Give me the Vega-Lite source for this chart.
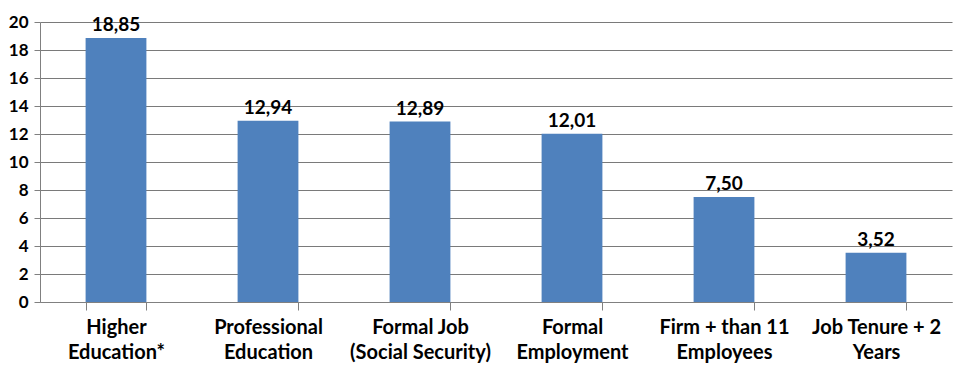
{
  "$schema": "https://vega.github.io/schema/vega-lite/v6.json",
  "autosize": "none",
  "width": 912,
  "height": 280,
  "padding": {"left": 40, "top": 22, "right": 2, "bottom": 74},
  "background": "white",
  "config": {
    "locale": {"number": {"decimal": ",", "thousands": ".", "grouping": [3], "currency": ["", ""]}},
    "view": {"stroke": null},
    "font": "Lato",
    "axis": {"ticks": true, "tickColor": "#808080", "domainColor": "#808080"},
    "axisY": {"grid": true, "gridColor": "#7a7a7a", "gridOpacity": 1, "gridWidth": 1.2}
  },
  "data": {
    "values": [
      {"category": "Higher|Education*", "value": 18.85},
      {"category": "Professional|Education", "value": 12.94},
      {"category": "Formal Job|(Social Security)", "value": 12.89},
      {"category": "Formal|Employment", "value": 12.01},
      {"category": "Firm + than 11|Employees", "value": 7.5},
      {"category": "Job Tenure + 2|Years", "value": 3.52}
    ]
  },
  "encoding": {
    "x": {
      "field": "category",
      "type": "nominal",
      "sort": null,
      "scale": {"paddingInner": 0.6, "paddingOuter": 0.3},
      "axis": {
        "title": null,
        "labelAngle": 0,
        "labelExpr": "split(datum.label, '|')",
        "labelFont": "Lato",
        "labelFontSize": 20,
        "labelFontWeight": "bold",
        "labelColor": "#000000",
        "labelLineHeight": 25,
        "labelPadding": 7,
        "labelLimit": 200,
        "tickBand": "extent",
        "tickSize": 8,
        "grid": false
      }
    },
    "y": {
      "field": "value",
      "type": "quantitative",
      "scale": {"domain": [0, 20], "nice": false},
      "axis": {
        "title": null,
        "tickCount": 10,
        "labelFont": "Lato",
        "labelFontSize": 17,
        "labelFontWeight": "bold",
        "labelColor": "#000000",
        "labelPadding": 6,
        "tickSize": 6
      }
    }
  },
  "layer": [
    {"mark": {"type": "bar", "color": "#4f81bd"}},
    {
      "mark": {"type": "text", "baseline": "bottom", "dy": -3, "fontSize": 19, "fontWeight": "bold", "font": "Lato", "color": "#000000"},
      "encoding": {"text": {"field": "value", "type": "quantitative", "format": ".2f"}}
    }
  ]
}
